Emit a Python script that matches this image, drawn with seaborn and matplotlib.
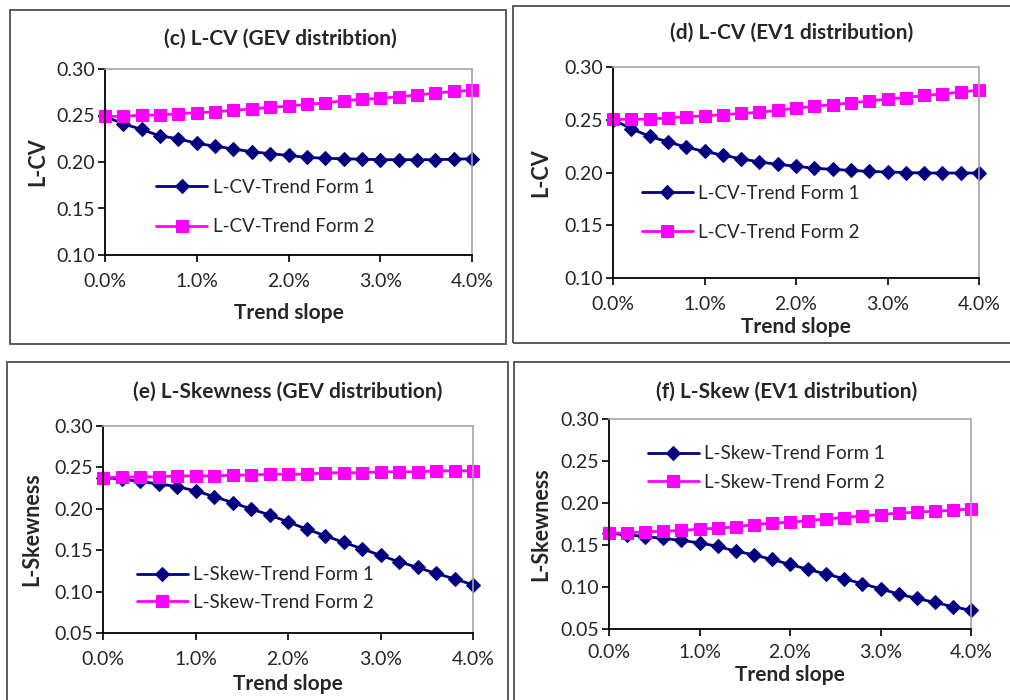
import numpy as np
import pandas as pd
import matplotlib
matplotlib.use("Agg")
import matplotlib.pyplot as plt
import seaborn as sns
from matplotlib.patches import Rectangle
from matplotlib.ticker import FuncFormatter, MultipleLocator

# ---------------- data ----------------
slope_pct = [0.0, 0.2, 0.4, 0.6, 0.8, 1.0, 1.2, 1.4, 1.6, 1.8, 2.0,
             2.2, 2.4, 2.6, 2.8, 3.0, 3.2, 3.4, 3.6, 3.8, 4.0]

lcv_gev_form1 = [0.249, 0.241, 0.235, 0.228, 0.225, 0.220, 0.217, 0.214, 0.211, 0.209, 0.207,
                 0.205, 0.204, 0.2035, 0.203, 0.2025, 0.2025, 0.2025, 0.2025, 0.203, 0.2035]
lcv_gev_form2 = [0.249, 0.249, 0.2505, 0.2505, 0.252, 0.253, 0.254, 0.2556, 0.257, 0.259, 0.260,
                 0.262, 0.2634, 0.266, 0.2674, 0.2685, 0.270, 0.272, 0.274, 0.276, 0.277]

lcv_ev1_form1 = [0.250, 0.2415, 0.2343, 0.229, 0.224, 0.220, 0.2164, 0.213, 0.210, 0.2077, 0.206,
                 0.204, 0.203, 0.202, 0.201, 0.2005, 0.200, 0.1995, 0.1995, 0.1995, 0.1995]
lcv_ev1_form2 = [0.2504, 0.2504, 0.2507, 0.2517, 0.253, 0.2536, 0.2548, 0.256, 0.257, 0.259, 0.261,
                 0.2627, 0.2643, 0.266, 0.2678, 0.2697, 0.271, 0.273, 0.2744, 0.2763, 0.278]

lskew_gev_form1 = [0.2378, 0.236, 0.233, 0.230, 0.2269, 0.2216, 0.2148, 0.2075, 0.1998, 0.1926, 0.1841,
                   0.1756, 0.1675, 0.1595, 0.1518, 0.1437, 0.136, 0.1292, 0.1219, 0.1154, 0.1082]
lskew_gev_form2 = [0.2378, 0.238, 0.2386, 0.2386, 0.2398, 0.2398, 0.2398, 0.2406, 0.2408, 0.2418, 0.2418,
                   0.2418, 0.2435, 0.2435, 0.2435, 0.2447, 0.2447, 0.2447, 0.2459, 0.2459, 0.2459]

lskew_ev1_form1 = [0.164, 0.1621, 0.1601, 0.1578, 0.1554, 0.1526, 0.1483, 0.1427, 0.1383, 0.1328, 0.1269,
                   0.1209, 0.1154, 0.1098, 0.1038, 0.0979, 0.0916, 0.0864, 0.0817, 0.0765, 0.0722]
lskew_ev1_form2 = [0.1641, 0.1645, 0.1657, 0.1665, 0.1673, 0.1689, 0.170, 0.1716, 0.1744, 0.176, 0.1772,
                   0.1788, 0.1811, 0.1827, 0.1847, 0.1863, 0.1879, 0.1891, 0.1903, 0.1914, 0.193]

titles = ["(c) L-CV (GEV distribtion)", "(d) L-CV (EV1 distribution)",
          "(e) L-Skewness (GEV distribution)", "(f) L-Skew (EV1 distribution)"]
ylabels = ["L-CV", "L-CV", "L-Skewness", "L-Skewness"]
xlabel = "Trend slope"
legend_form1 = ["L-CV-Trend Form 1", "L-CV-Trend Form 1", "L-Skew-Trend Form 1", "L-Skew-Trend Form 1"]
legend_form2 = ["L-CV-Trend Form 2", "L-CV-Trend Form 2", "L-Skew-Trend Form 2", "L-Skew-Trend Form 2"]
ylims = [(0.10, 0.30), (0.10, 0.30), (0.05, 0.30), (0.05, 0.30)]

series1 = [lcv_gev_form1, lcv_ev1_form1, lskew_gev_form1, lskew_ev1_form1]
series2 = [lcv_gev_form2, lcv_ev1_form2, lskew_gev_form2, lskew_ev1_form2]

# ---------------- style ----------------
sns.set_style("white")
plt.rcParams['font.family'] = ['Lato', 'DejaVu Sans']

W, H = 1010, 700
fig = plt.figure(figsize=(W / 100, H / 100), dpi=100)

def fx(px):
    return px / W

def fy(py):
    return 1 - py / H

# panel borders (pixel coords: left, top, right, bottom)
borders = [(10, 10, 506, 344), (513, 6, 1030, 343), (7, 362, 508, 720), (514, 362, 1030, 720)]
for (l, t, r, b) in borders:
    fig.patches.append(Rectangle((fx(l), fy(b)), fx(r - l), fy(t) - fy(b),
                                 transform=fig.transFigure, fill=False,
                                 edgecolor="#5a5a5a", linewidth=1.4, zorder=0))

# axes plot areas (left, top, right, bottom) in pixels
areas = [(105, 69, 472, 255), (613, 67, 979, 278), (103, 426, 473, 633), (609, 419, 971, 629)]
# title centre (x, y)
title_pos = [(280, 39), (792, 33), (288, 392), (787, 392)]
# x-label centre y, y-label centre x
xlabel_y = [313, 327, 684, 675]
ylabel_x = [38, 541, 32, 541]
xtick_pad = [8, 8, 8, 6]
# legend anchor (axes fraction) and spacing
leg_anchor = [(0.14, 0.41), (0.079, 0.443), (0.092, 0.322), (0.108, 0.875)]
leg_spacing = [1.2, 1.2, 0.55, 0.6]

navy = "#000080"
magenta = "#FF00FF"
TICK_FS = 14
LEG_FS = 13.5
LAB_FS = 15

for i in range(4):
    l, t, r, b = areas[i]
    ax = fig.add_axes([fx(l), fy(b), fx(r - l), fy(t) - fy(b)])
    df = pd.DataFrame({"slope": slope_pct, "f1": series1[i], "f2": series2[i]})
    sns.lineplot(data=df, x="slope", y="f1", ax=ax, color=navy, linewidth=2,
                 marker="D", markersize=7, markeredgecolor=navy, label=legend_form1[i])
    sns.lineplot(data=df, x="slope", y="f2", ax=ax, color=magenta, linewidth=2,
                 marker="s", markersize=8, markeredgecolor=magenta, label=legend_form2[i])

    ax.set_xlim(0, 4.0)
    ax.set_ylim(*ylims[i])
    ax.xaxis.set_major_locator(MultipleLocator(1.0))
    ax.yaxis.set_major_locator(MultipleLocator(0.05))
    ax.xaxis.set_major_formatter(FuncFormatter(lambda v, p: f"{v:.1f}%"))
    ax.yaxis.set_major_formatter(FuncFormatter(lambda v, p: f"{v:.2f}"))
    ax.tick_params(axis="both", which="major", labelsize=TICK_FS, direction="out",
                   length=5, width=1.2, color="black", bottom=True, left=True,
                   labelcolor="#262626")
    ax.tick_params(axis="x", pad=xtick_pad[i])
    ax.tick_params(axis="y", pad=2)
    for s in ["left", "bottom"]:
        ax.spines[s].set_color("black")
        ax.spines[s].set_linewidth(1.3)
    for s in ["top", "right"]:
        ax.spines[s].set_color("#a6a6a6")
        ax.spines[s].set_linewidth(1.2)
    for ln in ax.lines:
        ln.set_clip_on(False)

    ax.set_xlabel(xlabel, fontsize=LAB_FS, fontweight="bold")
    ax.set_ylabel(ylabels[i], fontsize=LAB_FS + 0.5, fontweight="bold")
    ax_h = b - t
    ax_w = r - l
    ax.xaxis.set_label_coords(0.5, (b - xlabel_y[i]) / ax_h)
    ax.xaxis.label.set_va("center")
    ax.yaxis.set_label_coords((ylabel_x[i] - l) / ax_w, 0.5)
    ax.yaxis.label.set_va("center")

    ax.legend(loc="upper left", bbox_to_anchor=leg_anchor[i], frameon=False,
              fontsize=LEG_FS, handlelength=2.7, handletextpad=0.3,
              labelspacing=leg_spacing[i], borderpad=0, borderaxespad=0,
              labelcolor="#262626")

    fig.text(fx(title_pos[i][0]), fy(title_pos[i][1]), titles[i], ha="center",
             va="center", fontsize=LAB_FS, fontweight="bold", color="#262626")

fig.savefig("out.png", dpi=100, facecolor="white")
